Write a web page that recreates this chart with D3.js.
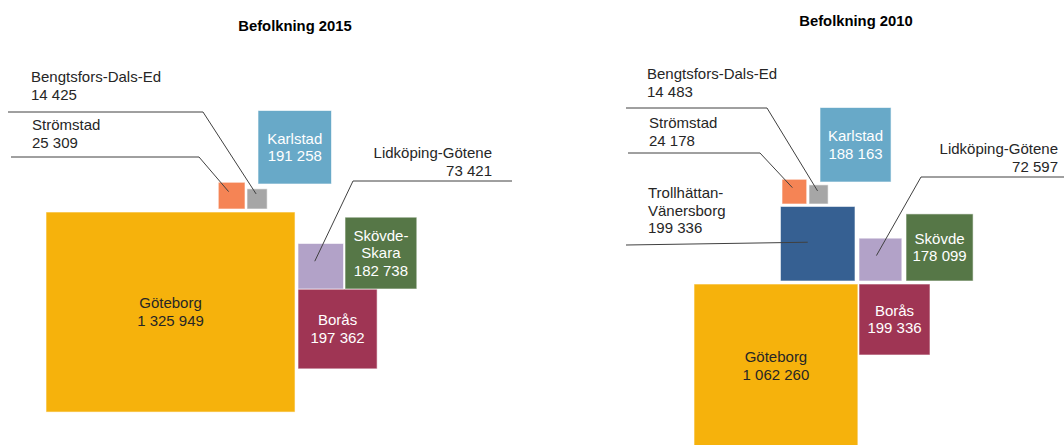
<!DOCTYPE html>
<html>
<head>
<meta charset="utf-8">
<script src="https://cdn.jsdelivr.net/npm/d3@7"></script>
<style>
  body { margin: 0; background: #fff; }
  svg { display: block; font-family: "Liberation Sans", Arial, sans-serif; }
</style>
</head>
<body>
<svg id="chart" width="1064" height="445"></svg>
<script>
// Data
const titles = ['Befolkning 2015', 'Befolkning 2010'];

const regions2015 = ['Göteborg', 'Borås', 'Skövde-Skara', 'Lidköping-Götene', 'Karlstad', 'Strömstad', 'Bengtsfors-Dals-Ed'];
const values2015 = [1325949, 197362, 182738, 73421, 191258, 25309, 14425];

const regions2010 = ['Göteborg', 'Trollhättan-Vänersborg', 'Borås', 'Skövde', 'Lidköping-Götene', 'Karlstad', 'Strömstad', 'Bengtsfors-Dals-Ed'];
const values2010 = [1062260, 199336, 199336, 178099, 72597, 188163, 24178, 14483];

// Colours per region
const colorByRegion = {
    'Göteborg': '#f6b20c',
    'Borås': '#9f3554',
    'Skövde-Skara': '#567747',
    'Skövde': '#567747',
    'Lidköping-Götene': '#b2a2c8',
    'Karlstad': '#68a9c8',
    'Strömstad': '#f58455',
    'Bengtsfors-Dals-Ed': '#a6a6a6',
    'Trollhättan-Vänersborg': '#366092'
};

// Hand placed layout (anchor point + which corner of the box sits there)
// sx/sy: the original boxes are not all exactly to scale
const layout2015 = {
    titleX: 295, titleY: 31, maxSide: 193.5,
    boxes: {
        'Göteborg': { x: 46, y: 212, ax: 0, ay: 0, sx: 1.287, sy: 1.034, label: 'inside' },
        'Borås': { x: 298, y: 289, ax: 0, ay: 0, sx: 1.06, sy: 1.07, label: 'inside' },
        'Skövde-Skara': { x: 345, y: 289, ax: 0, ay: 1, label: 'inside', wrap: true },
        'Lidköping-Götene': { x: 298, y: 289, ax: 0, ay: 1, label: 'leader',
            text: [492, 158, 'end'], line: [[512, 181], [353, 181]], end: [-6, -5] },
        'Karlstad': { x: 258, y: 184, ax: 0, ay: 1, label: 'inside' },
        'Strömstad': { x: 245, y: 209, ax: 1, ay: 1, label: 'leader',
            text: [32, 130, 'start'], line: [[11, 157], [199, 157]], end: [-3, -4] },
        'Bengtsfors-Dals-Ed': { x: 247, y: 209, ax: 0, ay: 1, label: 'leader',
            text: [31, 82, 'start'], line: [[8, 112], [203, 112]], end: [-1, -5] }
    }
};

const layout2010 = {
    titleX: 856, titleY: 26, maxSide: 163.9,
    boxes: {
        'Göteborg': { x: 694, y: 284, ax: 0, ay: 0, label: 'inside' },
        'Trollhättan-Vänersborg': { x: 855, y: 281, ax: 1, ay: 1, sx: 1.05, sy: 1.05, label: 'leader', wrap: true,
            text: [648, 198, 'start'], line: [[626, 245]], end: [-10, -1.5] },
        'Borås': { x: 859, y: 284, ax: 0, ay: 0, label: 'inside' },
        'Skövde': { x: 906, y: 281, ax: 0, ay: 1, label: 'inside' },
        'Lidköping-Götene': { x: 859, y: 281, ax: 0, ay: 1, label: 'leader',
            text: [1058, 154, 'end'], line: [[1070, 177], [921, 177]], end: [-4, -4] },
        'Karlstad': { x: 820, y: 182, ax: 0, ay: 1, sx: 1.03, sy: 1.08, label: 'inside' },
        'Strömstad': { x: 782, y: 204, ax: 0, ay: 1, label: 'leader',
            text: [649, 128, 'start'], line: [[628, 153], [760, 153]], end: [-2, -4] },
        'Bengtsfors-Dals-Ed': { x: 809, y: 204, ax: 0, ay: 1, label: 'leader',
            text: [647, 79, 'start'], line: [[626, 108], [767, 108]], end: [-1, -3.5] }
    }
};

const fontSize = 15;
const lineHeight = 17.5;
const fmt = v => d3.format(',')(v).replace(/,/g, ' ');

function labelLines(name, value, wrap) {
    const lines = wrap ? name.split('-').map((p, i, a) => i < a.length - 1 ? p + '-' : p) : [name];
    return lines.concat(fmt(value));
}

function drawPanel(svg, title, regions, values, lay) {
    const g = svg.append('g');

    // area proportional squares
    const side = d3.scaleSqrt()
        .domain([0, d3.max(values)])
        .range([0, lay.maxSide]);

    const items = regions.map((name, i) => {
        const b = lay.boxes[name];
        const w = side(values[i]) * (b.sx || 1);
        const h = side(values[i]) * (b.sy || 1);
        const x = b.x - b.ax * w;
        const y = b.y - b.ay * h;
        return { name, value: values[i], b, x, y, w, h, cx: x + w / 2, cy: y + h / 2 };
    });

    g.append('text')
        .attr('x', lay.titleX)
        .attr('y', lay.titleY)
        .attr('text-anchor', 'middle')
        .attr('font-weight', 'bold')
        .attr('font-size', 14.8)
        .attr('fill', '#000')
        .text(title);

    g.selectAll('rect.box')
        .data(items)
        .enter().append('rect')
            .attr('class', 'box')
            .attr('x', d => d.x)
            .attr('y', d => d.y)
            .attr('width', d => d.w)
            .attr('height', d => d.h)
            .attr('fill', d => colorByRegion[d.name])
            .attr('stroke', '#ffffff')
            .attr('stroke-opacity', 0.6)
            .attr('stroke-width', 1);

    // labels inside the boxes
    items.filter(d => d.b.label === 'inside').forEach(d => {
        const lines = labelLines(d.name, d.value, d.b.wrap);
        const t = g.append('text')
            .attr('text-anchor', 'middle')
            .attr('font-size', fontSize)
            .attr('fill', d.name === 'Göteborg' ? '#262626' : '#ffffff');
        lines.forEach((l, i) => {
            t.append('tspan')
                .attr('x', d.cx)
                .attr('y', d.cy + (i - (lines.length - 1) / 2) * lineHeight + 5)
                .text(l);
        });
    });

    // labels with leader lines
    items.filter(d => d.b.label === 'leader').forEach(d => {
        const pts = d.b.line.concat([[d.cx + d.b.end[0], d.cy + d.b.end[1]]]);
        g.append('path')
            .attr('d', d3.line()(pts))
            .attr('fill', 'none')
            .attr('stroke', '#404040')
            .attr('stroke-width', 1);

        const lines = labelLines(d.name, d.value, d.b.wrap);
        const t = g.append('text')
            .attr('text-anchor', d.b.text[2])
            .attr('font-size', fontSize)
            .attr('fill', '#262626');
        lines.forEach((l, i) => {
            t.append('tspan')
                .attr('x', d.b.text[0])
                .attr('y', d.b.text[1] + i * lineHeight)
                .text(l);
        });
    });
}

const svg = d3.select('#chart');
svg.append('rect').attr('width', 1064).attr('height', 445).attr('fill', '#fff');

drawPanel(svg, titles[0], regions2015, values2015, layout2015);
drawPanel(svg, titles[1], regions2010, values2010, layout2010);
</script>
</body>
</html>
